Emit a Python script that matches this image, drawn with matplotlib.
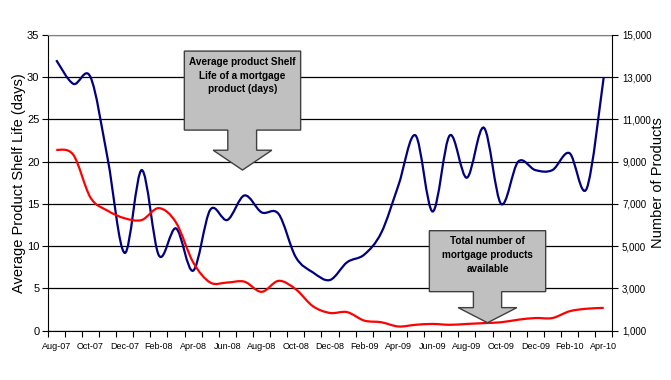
import numpy as np
import matplotlib.pyplot as plt
from matplotlib.path import Path
from matplotlib.patches import PathPatch, Polygon

# monthly data, Aug-07 .. Apr-10
months = ['Aug-07', 'Sep-07', 'Oct-07', 'Nov-07', 'Dec-07',
          'Jan-08', 'Feb-08', 'Mar-08', 'Apr-08', 'May-08', 'Jun-08', 'Jul-08',
          'Aug-08', 'Sep-08', 'Oct-08', 'Nov-08', 'Dec-08',
          'Jan-09', 'Feb-09', 'Mar-09', 'Apr-09', 'May-09', 'Jun-09', 'Jul-09',
          'Aug-09', 'Sep-09', 'Oct-09', 'Nov-09', 'Dec-09',
          'Jan-10', 'Feb-10', 'Mar-10', 'Apr-10']
shelf_life_days = [32.0, 29.2, 30.0, 20.4, 9.2, 19.0, 8.9, 12.1, 7.1, 14.3, 13.1,
                   16.0, 14.0, 13.8, 8.7, 6.9, 6.0, 8.1, 9.0, 11.6, 17.2, 23.1,
                   14.1, 23.1, 18.1, 24.0, 15.0, 20.0, 19.0, 19.0, 21.0, 16.8, 30.0]
num_products = [9560, 9320, 7300, 6680, 6320, 6240, 6800, 6120, 4240, 3280, 3280,
                3320, 2840, 3360, 2960, 2160, 1840, 1880, 1480, 1400, 1200, 1280,
                1320, 1280, 1320, 1360, 1400, 1520, 1600, 1600, 1920, 2040, 2080]

left_ticks = [0, 5, 10, 15, 20, 25, 30, 35]
right_ticks = [1000, 3000, 5000, 7000, 9000, 11000, 13000, 15000]

font = ['Liberation Sans', 'DejaVu Sans']


def smooth_path(x, y):
    # Excel style smoothed line: bezier segments through every point
    pts = np.column_stack([x, y])
    pad = np.vstack([pts[0], pts, pts[-1]])
    verts = [pts[0]]
    codes = [Path.MOVETO]
    for i in range(len(pts) - 1):
        p0, p1, p2, p3 = pad[i], pad[i + 1], pad[i + 2], pad[i + 3]
        verts += [p1 + (p2 - p0) / 6, p2 - (p3 - p1) / 6, p2]
        codes += [Path.CURVE4] * 3
    return Path(verts, codes)


def callout(ax, box, stem, head, tip_y, text, text_y):
    l, r, b, t = box
    sl, sr, sb = stem
    hl, hr = head
    tx = (hl + hr) / 2
    verts = [(l, t), (r, t), (r, b), (sr, b), (sr, sb), (hr, sb), (tx, tip_y),
             (hl, sb), (sl, sb), (sl, b), (l, b)]
    ax.add_patch(Polygon(verts, closed=True, transform=ax.transAxes,
                         facecolor='#c0c0c0', edgecolor='#404040', lw=1,
                         zorder=6, clip_on=False))
    ax.text(tx, text_y, text, transform=ax.transAxes, ha='center', va='center',
            family=font, fontweight='bold', fontsize=7.2, linespacing=1.45,
            zorder=7)


fig = plt.figure(figsize=(6.71, 3.8), dpi=100)
ax = fig.add_axes([0.0711, 0.1297, 0.8414, 0.7787])
ax2 = ax.twinx()

x = np.arange(len(months)) + 0.5

ax.add_patch(PathPatch(smooth_path(x, shelf_life_days), fill=False,
                       edgecolor='#000080', lw=1.6, zorder=3))
ax2.add_patch(PathPatch(smooth_path(x, num_products), fill=False,
                        edgecolor='#ff0000', lw=1.6, zorder=3))

ax.set_xlim(0, len(months))
ax.set_ylim(0, 35)
ax2.set_ylim(1000, 15000)

# category boundaries get tick marks, every second month is labelled
ax.set_xticks(np.arange(len(months) + 1))
ax.set_xticklabels([])
ax.set_xticks(x[::2], minor=True)
ax.set_xticklabels(months[::2], minor=True, family=font, fontsize=6.5)
ax.tick_params(axis='x', which='major', direction='out', length=4, width=0.8)
ax.tick_params(axis='x', which='minor', length=0, pad=8)

ax.set_yticks(left_ticks)
ax.set_yticklabels([str(v) for v in left_ticks], family=font, fontsize=8)
ax.tick_params(axis='y', direction='out', length=4, width=0.8, pad=2)
ax2.set_yticks(right_ticks)
ax2.set_yticklabels([f'{v:,}' for v in right_ticks], family=font, fontsize=7)
ax2.tick_params(axis='y', direction='out', length=4, width=0.8, pad=3)

ax.grid(axis='y', color='black', lw=0.9)
ax.set_axisbelow(True)

for s in ['left', 'bottom']:
    ax.spines[s].set_color('black')
ax.spines['top'].set_color('#808080')
ax.spines['right'].set_visible(False)
ax2.spines['top'].set_visible(False)
ax2.spines['left'].set_visible(False)
ax2.spines['bottom'].set_visible(False)
ax2.spines['right'].set_color('black')

ax.set_ylabel('Average Product Shelf Life (days)', family=font, fontsize=10.5)
ax.yaxis.set_label_coords(-0.039, 0.5)
ax2.set_ylabel('Number of Products', family=font, fontsize=10.5)
ax2.yaxis.set_label_coords(1.068, 0.5)

callout(ax2, (0.242, 0.448, 0.678, 0.945), (0.319, 0.370, 0.610),
        (0.293, 0.397), 0.543,
        'Average product Shelf\nLife of a mortgage\nproduct (days)', 0.862)
callout(ax2, (0.676, 0.882, 0.132, 0.338), (0.754, 0.804, 0.078),
        (0.727, 0.831), 0.027,
        'Total number of\nmortgage products\navailable', 0.256)

fig.savefig('out.png', dpi=100)
